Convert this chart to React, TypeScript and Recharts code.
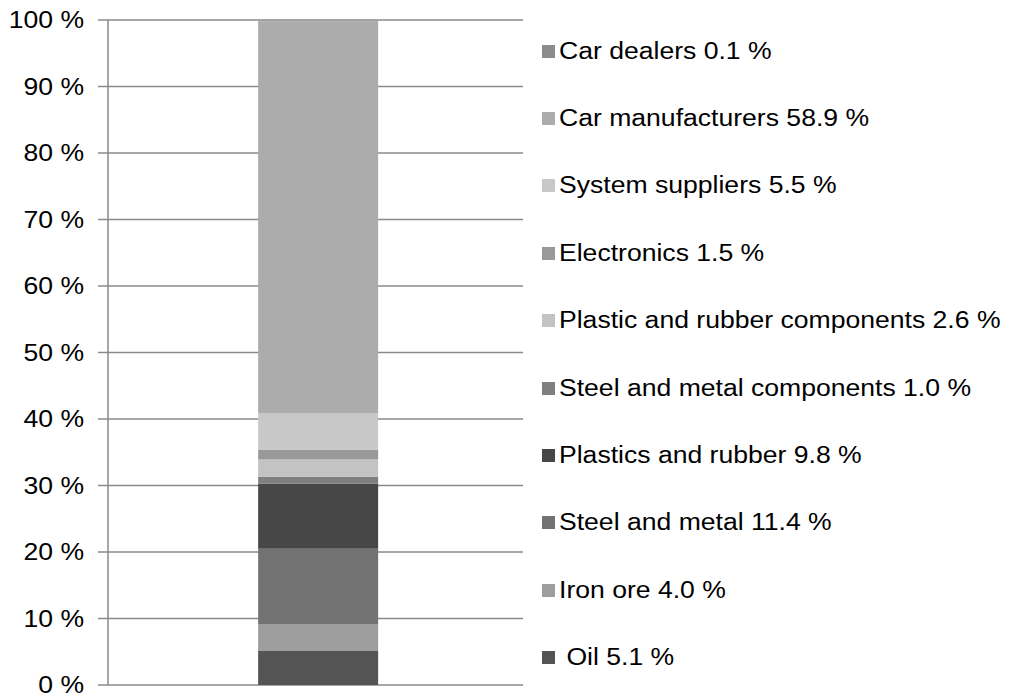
import React from 'react';
import { BarChart, Bar, XAxis, YAxis, CartesianGrid, Legend } from 'recharts';

// stacking order: bottom of the column first
const SEGMENTS = [
  'Oil',
  'Iron ore',
  'Steel and metal',
  'Plastics and rubber',
  'Steel and metal components',
  'Plastic and rubber components',
  'Electronics',
  'System suppliers',
  'Car manufacturers',
  'Car dealers',
];
const SHARES = [5.1, 4.0, 11.4, 9.8, 1.0, 2.6, 1.5, 5.5, 58.9, 0.1];
const GREYS = [
  '#545454',
  '#9e9e9e',
  '#727272',
  '#474747',
  '#7f7f7f',
  '#c3c3c3',
  '#999999',
  '#c8c8c8',
  '#acacac',
  '#8c8c8c',
];
const Y_TICKS = [0, 10, 20, 30, 40, 50, 60, 70, 80, 90, 100];

const FONT = '"Liberation Sans", Arial, sans-serif';
const FONT_SIZE = 23;
const STRETCH = 1.155; // labels are drawn a bit wide

const row: Record<string, any> = { name: 'chain' };
SEGMENTS.forEach((s, i) => {
  row[s] = SHARES[i];
});
const data = [row];

function fmt(v: number) {
  return v.toFixed(1);
}

function PercentTick({ x, y, payload }: any) {
  return (
    <g transform={`translate(${x},${y}) scale(${STRETCH},1)`}>
      <text x={0} y={0} dy="0.355em" textAnchor="end" fill="#000" fontSize={FONT_SIZE} fontFamily={FONT}>
        {`${payload.value} %`}
      </text>
    </g>
  );
}

function SideLegend() {
  // top entry is the top of the stack
  const order = SEGMENTS.map((_, i) => i).reverse();
  return (
    <div style={{ fontFamily: FONT, fontSize: FONT_SIZE, color: '#000' }}>
      {order.map((idx) => {
        const label = idx === 0 ? ` ${SEGMENTS[idx]}` : SEGMENTS[idx];
        return (
          <div
            key={SEGMENTS[idx]}
            style={{ height: 67.4, display: 'flex', alignItems: 'center', whiteSpace: 'pre' }}
          >
            <span
              style={{
                display: 'inline-block',
                width: 13,
                height: 13,
                background: GREYS[idx],
                marginRight: 4,
                flex: 'none',
              }}
            />
            <span style={{ display: 'inline-block', transform: `scaleX(${STRETCH})`, transformOrigin: 'left center' }}>
              {`${label} ${fmt(SHARES[idx])} %`}
            </span>
          </div>
        );
      })}
    </div>
  );
}

export default function App() {
  return (
    <div style={{ position: 'absolute', left: 0, top: 0, width: 1013, height: 697, background: '#fff' }}>
      <BarChart
        width={1013}
        height={697}
        data={data}
        margin={{ top: 20, right: 20, bottom: 12, left: 0 }}
        barCategoryGap="35.4%"
      >
        <CartesianGrid vertical={false} stroke="#8a8a8a" strokeWidth={1.5} />
        <XAxis
          dataKey="name"
          tick={false}
          tickLine={false}
          axisLine={{ stroke: '#8a8a8a', strokeWidth: 1.5 }}
          height={0}
          padding={{ left: 5, right: 0 }}
        />
        <YAxis
          width={108}
          domain={[0, 100]}
          ticks={Y_TICKS}
          interval={0}
          tickSize={10}
          tickMargin={14}
          tickLine={{ stroke: '#8a8a8a', strokeWidth: 1.5 }}
          axisLine={{ stroke: '#8a8a8a', strokeWidth: 1.5 }}
          tick={<PercentTick />}
        />
        <Legend
          layout="vertical"
          align="right"
          verticalAlign="top"
          content={<SideLegend />}
          wrapperStyle={{ width: 470, left: 542, top: 17.5 }}
        />
        {SEGMENTS.map((s, i) => (
          <Bar key={s} dataKey={s} stackId="a" fill={GREYS[i]} isAnimationActive={false} />
        ))}
      </BarChart>
    </div>
  );
}
